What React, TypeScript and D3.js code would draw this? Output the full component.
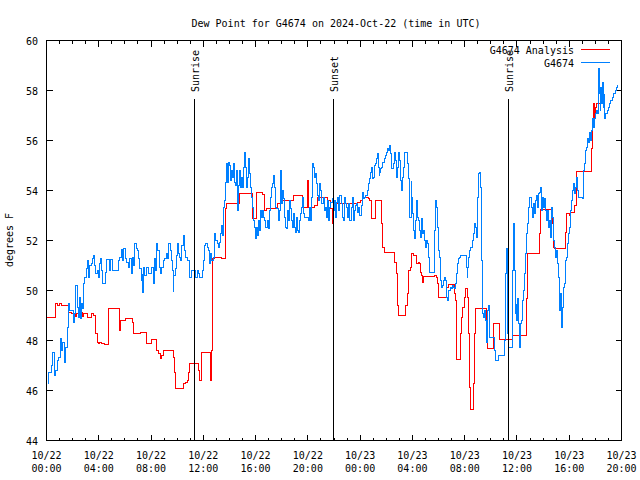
import React from "react";
import * as d3 from "d3";

const title = "Dew Point for G4674 on 2024-Oct-22 (time in UTC)";
const yAxisLabel = "degrees F";
const seriesNames = ["G4674 Analysis", "G4674"];
const seriesColors = ["#ff0000", "#0080ff"];
const yTickValues = [44, 46, 48, 50, 52, 54, 56, 58, 60];
const startUtc = Date.UTC(2024, 9, 22, 0, 0);
const spanHours = 44;
const eventNames = ["Sunrise", "Sunset", "Sunrise"];
const eventHours = [11.35, 21.98, 35.38];

// [hours since 2024-10-22 00:00 UTC, dew point °F]
const analysis: [number, number][] = [
  [0.0, 48.93], [0.66, 49.49], [0.82, 49.4], [1.0, 49.47], [1.15, 49.4], [1.68, 49.13], [1.9, 49.07],
  [2.2, 48.97], [2.3, 49.07], [2.45, 49.13], [2.73, 48.97], [2.86, 49.07], [3.1, 48.93], [3.42, 49.07],
  [3.57, 49.0], [3.75, 48.27], [3.88, 47.93], [3.95, 47.87], [4.06, 47.93], [4.2, 47.87], [4.4, 47.83],
  [4.77, 49.27], [5.56, 48.8], [5.6, 48.4], [5.65, 48.8], [6.05, 48.89], [6.55, 48.73], [6.68, 48.3],
  [7.2, 48.33], [7.65, 47.89], [8.04, 48.03], [8.42, 47.6], [8.6, 47.47], [8.72, 47.27], [8.8, 47.4],
  [8.93, 47.6], [9.69, 47.33], [9.8, 46.73], [9.9, 46.07], [10.51, 46.27], [10.62, 46.33], [10.77, 46.4],
  [10.84, 46.73], [10.92, 47.07], [11.66, 46.8], [11.74, 46.4], [11.84, 47.53], [12.52, 47.2], [12.58, 46.4],
  [12.65, 47.6], [12.73, 51.27], [12.85, 51.33], [13.37, 51.27], [13.68, 53.27], [13.78, 53.47], [14.79, 53.89],
  [15.77, 52.87], [16.07, 53.93], [16.55, 53.84], [16.68, 53.2], [16.85, 53.27], [17.65, 53.47], [17.9, 53.6],
  [18.88, 53.8], [19.57, 53.33], [19.97, 54.4], [20.05, 53.33], [20.5, 53.4], [20.71, 53.73], [21.53, 53.6],
  [21.7, 53.27], [21.9, 52.67], [21.95, 53.27], [22.1, 53.53], [22.2, 53.47], [23.8, 53.53], [24.0, 53.6],
  [24.15, 53.67], [24.28, 53.73], [24.62, 53.67], [24.75, 53.6], [24.85, 53.27], [24.9, 52.87], [25.18, 53.6],
  [25.65, 52.67], [25.74, 51.73], [25.85, 51.53], [26.6, 51.13], [26.76, 50.67], [26.85, 50.27], [26.89, 49.4],
  [26.97, 49.0], [27.5, 49.4], [27.6, 49.87], [27.73, 50.8], [27.85, 50.93], [27.92, 51.47], [28.1, 51.4],
  [28.32, 51.07], [28.45, 51.13], [28.55, 51.07], [28.62, 50.73], [28.68, 50.6], [28.75, 50.33], [28.82, 50.57],
  [29.7, 50.6], [29.85, 50.53], [29.95, 50.27], [30.03, 49.73], [30.58, 50.13], [30.74, 50.23], [31.2, 49.87],
  [31.3, 49.6], [31.35, 48.4], [31.4, 47.23], [31.65, 48.27], [31.75, 48.93], [31.86, 49.33], [31.95, 49.73],
  [32.04, 50.07], [32.2, 49.73], [32.27, 48.27], [32.4, 46.13], [32.45, 45.23], [32.68, 46.27], [32.78, 48.27],
  [32.83, 49.27], [33.7, 48.8], [33.77, 47.67], [34.23, 48.67], [34.69, 48.03], [35.64, 48.2], [36.74, 49.67],
  [36.79, 51.47], [37.76, 52.27], [37.81, 53.24], [38.75, 52.67], [38.83, 51.73], [38.9, 51.67], [39.72, 52.33],
  [39.8, 53.07], [40.0, 53.0], [40.13, 53.13], [40.4, 53.4], [40.59, 54.76], [41.72, 55.67], [41.76, 56.53],
  [41.83, 56.8], [41.89, 57.47], [41.97, 56.87], [42.02, 57.33], [42.12, 57.47], [42.5, 57.47],
];

const observed: [number, number][] = [
  [0.05, 46.27], [0.18, 46.73], [0.36, 47.0], [0.48, 47.53], [0.61, 46.6], [0.71, 46.8], [0.82, 47.2], [0.94, 47.33],
  [1.07, 48.07], [1.17, 47.6], [1.25, 47.93], [1.38, 47.13], [1.45, 47.73], [1.58, 48.53], [1.66, 49.47], [1.76, 49.2],
  [1.96, 49.2], [2.09, 48.73], [2.17, 49.07], [2.24, 50.2], [2.35, 49.33], [2.45, 48.93], [2.55, 49.73], [2.63, 48.87],
  [2.7, 49.47], [2.78, 49.27], [2.86, 50.27], [2.93, 50.53], [3.04, 50.87], [3.11, 51.2], [3.24, 50.53], [3.32, 51.0],
  [3.42, 51.07], [3.52, 51.27], [3.6, 51.4], [3.67, 51.0], [3.78, 50.67], [3.88, 50.8], [3.95, 50.53], [4.03, 51.07],
  [4.13, 51.27], [4.21, 50.8], [4.29, 50.27], [4.44, 50.27], [4.49, 50.73], [4.57, 51.23], [4.77, 51.23], [4.85, 50.8],
  [4.92, 51.23], [5.03, 50.8], [5.46, 50.8], [5.54, 51.2], [5.61, 51.33], [5.71, 51.64], [5.82, 51.2], [5.92, 51.67],
  [6.05, 51.27], [6.12, 51.13], [6.25, 50.93], [6.38, 51.27], [6.48, 50.67], [6.56, 51.33], [6.68, 51.0], [6.76, 51.89],
  [6.86, 51.67], [6.96, 51.6], [7.07, 51.27], [7.14, 50.87], [7.24, 50.4], [7.32, 50.67], [7.37, 49.93], [7.45, 50.93],
  [7.53, 50.6], [7.63, 50.93], [7.83, 50.67], [8.01, 50.93], [8.11, 50.93], [8.21, 50.27], [8.29, 51.27], [8.37, 50.8],
  [8.44, 51.87], [8.52, 51.6], [8.62, 50.93], [8.72, 50.67], [8.83, 50.93], [8.93, 51.2], [9.06, 51.27], [9.16, 51.47],
  [9.23, 51.27], [9.36, 51.89], [9.46, 51.6], [9.54, 51.2], [9.64, 50.8], [9.69, 49.96], [9.74, 50.6], [9.85, 50.87],
  [9.95, 51.4], [10.03, 51.89], [10.1, 51.47], [10.18, 51.33], [10.26, 51.2], [10.36, 51.8], [10.46, 52.2], [10.56, 51.6],
  [10.66, 51.33], [10.79, 51.2], [10.89, 51.2], [10.97, 50.53], [11.07, 50.8], [11.28, 50.8], [11.4, 50.53], [11.53, 50.8],
  [11.66, 50.67], [11.73, 50.53], [11.84, 50.53], [11.91, 50.8], [11.99, 51.2], [12.09, 51.8], [12.19, 51.87], [12.3, 51.73],
  [12.4, 51.6], [12.45, 51.07], [12.53, 51.47], [12.63, 51.2], [12.73, 51.2], [12.81, 51.33], [12.88, 52.27], [12.96, 52.0],
  [13.06, 51.87], [13.16, 51.73], [13.27, 51.93], [13.34, 52.27], [13.42, 52.6], [13.49, 52.2], [13.57, 53.33], [13.65, 53.6],
  [13.72, 54.33], [13.8, 55.07], [13.88, 54.33], [13.95, 55.13], [14.03, 55.0], [14.08, 54.4], [14.16, 54.8], [14.23, 54.53],
  [14.29, 55.07], [14.36, 54.33], [14.44, 54.2], [14.52, 54.8], [14.59, 54.4], [14.64, 53.2], [14.72, 54.2], [14.8, 54.8],
  [14.85, 54.13], [14.92, 54.53], [15.0, 54.13], [15.1, 54.93], [15.18, 55.53], [15.26, 54.93], [15.33, 54.13], [15.41, 54.53],
  [15.48, 55.27], [15.56, 54.67], [15.61, 54.13], [15.69, 53.73], [15.77, 53.33], [15.84, 52.8], [15.92, 52.53], [15.99, 52.07],
  [16.07, 52.53], [16.15, 52.2], [16.22, 52.8], [16.3, 52.4], [16.38, 53.2], [16.45, 52.93], [16.53, 53.2], [16.63, 52.93],
  [16.71, 52.8], [16.79, 52.53], [16.89, 52.8], [16.96, 52.47], [17.04, 53.2], [17.12, 53.73], [17.19, 54.13], [17.27, 54.27],
  [17.35, 54.6], [17.42, 54.13], [17.5, 53.33], [17.58, 53.27], [17.65, 53.27], [17.76, 52.8], [17.83, 53.2], [17.91, 54.8],
  [17.98, 53.47], [18.06, 54.0], [18.14, 53.67], [18.21, 52.93], [18.29, 52.53], [18.37, 52.47], [18.44, 53.2], [18.52, 52.8],
  [18.6, 53.6], [18.67, 53.27], [18.75, 52.8], [18.83, 52.53], [18.9, 53.07], [18.98, 52.53], [19.06, 52.33], [19.13, 52.93],
  [19.23, 52.4], [19.31, 52.33], [19.39, 52.8], [19.46, 53.07], [19.54, 53.33], [19.62, 53.73], [19.69, 53.07], [19.74, 52.93],
  [19.95, 52.93], [20.03, 52.8], [20.1, 53.33], [20.18, 52.8], [20.26, 53.73], [20.33, 54.8], [20.38, 55.07], [20.46, 54.93],
  [20.54, 54.53], [20.61, 54.67], [20.69, 54.27], [20.77, 53.8], [20.84, 53.6], [20.92, 54.27], [20.99, 54.0], [21.07, 53.47],
  [21.15, 53.47], [21.22, 53.73], [21.3, 53.2], [21.38, 53.33], [21.45, 52.93], [21.53, 53.6], [21.61, 52.8], [21.68, 53.33],
  [21.73, 53.53], [21.86, 53.67], [21.94, 53.2], [22.04, 53.6], [22.12, 52.93], [22.19, 53.53], [22.3, 53.73], [22.37, 53.2],
  [22.45, 53.8], [22.55, 53.47], [22.63, 52.93], [22.7, 52.8], [22.81, 53.73], [22.88, 53.47], [22.96, 53.33], [23.06, 52.93],
  [23.14, 53.47], [23.21, 52.8], [23.32, 53.33], [23.39, 53.73], [23.47, 52.8], [23.57, 53.2], [23.65, 53.4], [23.72, 53.47],
  [23.83, 53.13], [23.9, 53.33], [23.98, 53.0], [24.08, 53.4], [24.16, 53.93], [24.23, 53.8], [24.29, 53.67], [24.36, 53.73],
  [24.44, 53.8], [24.54, 54.0], [24.62, 54.27], [24.69, 54.47], [24.8, 54.73], [24.87, 54.93], [24.95, 54.47], [25.03, 54.53],
  [25.1, 55.0], [25.18, 55.07], [25.26, 55.27], [25.31, 55.47], [25.38, 54.93], [25.46, 54.6], [25.51, 54.73], [25.59, 54.87],
  [25.66, 54.93], [25.74, 55.13], [25.82, 55.13], [25.89, 55.27], [25.97, 55.4], [26.05, 55.53], [26.12, 55.67], [26.2, 55.6],
  [26.28, 55.8], [26.35, 55.47], [26.43, 54.87], [26.51, 54.87], [26.58, 55.07], [26.66, 55.51], [26.73, 55.2], [26.81, 54.53],
  [26.89, 54.93], [26.97, 55.51], [27.04, 55.2], [27.12, 54.4], [27.19, 54.0], [27.24, 54.53], [27.32, 54.93], [27.4, 55.51],
  [27.58, 55.51], [27.65, 55.07], [27.7, 54.47], [27.76, 52.93], [27.83, 52.93], [27.91, 54.4], [27.96, 53.73], [28.04, 53.07],
  [28.11, 52.4], [28.19, 52.07], [28.27, 52.8], [28.34, 53.6], [28.42, 52.93], [28.5, 52.8], [28.57, 52.4], [28.62, 52.13],
  [28.7, 52.87], [28.78, 52.27], [28.85, 52.4], [28.93, 52.0], [29.01, 51.73], [29.08, 52.0], [29.16, 51.87], [29.23, 51.33],
  [29.31, 50.73], [29.64, 50.73], [29.72, 52.4], [29.8, 53.6], [29.87, 53.33], [29.95, 52.53], [30.03, 51.6], [30.1, 51.33],
  [30.15, 50.4], [30.23, 50.13], [30.31, 50.2], [30.38, 50.4], [30.46, 50.53], [30.54, 50.4], [30.61, 49.73], [30.69, 49.6],
  [30.77, 50.0], [30.84, 50.0], [30.92, 50.13], [31.0, 50.07], [31.07, 50.2], [31.15, 50.13], [31.22, 50.07], [31.3, 50.27],
  [31.38, 50.67], [31.45, 51.07], [31.53, 51.27], [31.61, 51.33], [31.68, 51.4], [32.04, 51.4], [32.12, 50.93], [32.19, 50.53],
  [32.24, 50.93], [32.32, 51.33], [32.4, 51.6], [32.47, 51.73], [32.55, 51.73], [32.63, 52.0], [32.7, 52.27], [32.76, 52.67],
  [32.83, 52.53], [32.88, 52.13], [32.96, 53.73], [33.03, 54.67], [33.11, 54.73], [33.19, 54.13], [33.27, 51.2], [33.34, 49.07],
  [33.42, 48.93], [33.5, 49.2], [33.57, 48.8], [33.65, 48.47], [33.7, 47.93], [33.78, 49.2], [33.85, 49.4], [33.93, 48.13],
  [34.21, 48.13], [34.26, 47.6], [34.34, 47.2], [34.57, 47.4], [35.0, 47.4], [35.08, 48.0], [35.15, 50.67], [35.2, 51.67],
  [35.26, 48.27], [35.33, 47.73], [35.59, 47.73], [35.64, 48.53], [35.69, 50.8], [35.77, 52.67], [35.82, 50.8], [35.89, 49.07],
  [35.94, 49.47], [35.99, 48.8], [36.05, 49.67], [36.1, 48.67], [36.17, 47.73], [36.22, 47.73], [36.28, 48.67], [36.35, 48.8],
  [36.43, 49.6], [36.51, 50.0], [36.58, 50.67], [36.66, 51.47], [36.73, 52.27], [36.81, 52.67], [36.89, 53.33], [36.94, 53.73],
  [37.07, 53.73], [37.14, 53.33], [37.22, 52.93], [37.3, 53.47], [37.37, 53.07], [37.45, 53.6], [37.53, 53.8], [37.6, 53.33],
  [37.68, 53.87], [37.76, 53.93], [37.83, 54.13], [37.91, 53.2], [37.96, 53.73], [38.04, 53.33], [38.11, 53.67], [38.19, 53.2],
  [38.27, 52.8], [38.34, 53.2], [38.42, 52.53], [38.49, 52.8], [38.57, 52.13], [38.65, 53.33], [38.72, 52.93], [38.8, 52.0],
  [38.88, 51.73], [38.95, 51.33], [39.03, 51.6], [39.11, 51.07], [39.18, 50.53], [39.23, 49.2], [39.31, 49.87], [39.39, 49.33],
  [39.44, 48.53], [39.52, 49.33], [39.59, 50.13], [39.67, 50.27], [39.74, 51.2], [39.82, 51.33], [39.87, 51.87], [39.95, 52.27],
  [40.03, 52.53], [40.1, 53.2], [40.18, 53.6], [40.26, 54.0], [40.33, 54.27], [40.41, 53.87], [40.48, 54.13], [40.56, 54.53],
  [40.64, 54.0], [40.71, 53.73], [41.0, 53.67], [41.07, 54.8], [41.15, 55.07], [41.22, 55.2], [41.28, 55.6], [41.35, 55.73],
  [41.43, 56.07], [41.51, 55.93], [41.58, 56.33], [41.63, 56.0], [41.71, 56.4], [41.76, 56.67], [41.81, 56.87], [41.89, 56.53],
  [41.94, 56.87], [41.99, 57.07], [42.07, 57.2], [42.14, 57.07], [42.22, 57.73], [42.27, 58.87], [42.32, 57.87], [42.37, 57.2],
  [42.42, 58.13], [42.5, 57.47], [42.58, 58.33], [42.63, 57.33], [42.68, 57.87], [42.73, 56.87], [42.81, 57.07], [42.91, 57.2],
  [42.99, 57.33], [43.09, 57.47], [43.17, 57.6], [43.3, 57.71], [43.37, 57.87], [43.52, 58.0], [43.6, 58.13], [43.73, 58.24],
];

const FONT = "'DejaVu Sans Mono', monospace";
const W = 640;
const H = 480;
const L = 46.5, R = 621.5, T = 40.5, B = 440.5;

const toDate = (h: number) => new Date(startUtc + h * 3600 * 1000);

export default function App() {
  const x = d3.scaleUtc().domain([toDate(0), toDate(spanHours)]).range([L, R]);
  const y = d3.scaleLinear().domain([44, 60]).range([B, T]);

  const line = d3
    .line<[number, number]>()
    .x((d) => Math.round(x(toDate(d[0])) - 0.5) + 0.5)
    .y((d) => Math.round(y(d[1]) - 0.5) + 0.5)
    .curve(d3.curveStepAfter);

  const hourTicks = x.ticks(d3.utcHour.every(1) as d3.TimeInterval);
  const majorTicks = x.ticks(d3.utcHour.every(4) as d3.TimeInterval);
  const fmtDate = d3.utcFormat("%m/%d");
  const fmtTime = d3.utcFormat("%H:%M");

  return (
    <svg
      width={W}
      height={H}
      style={{ position: "absolute", left: 0, top: 0, background: "#fff" }}
      fontFamily={FONT}
      fontSize={10}
    >
      <rect x={0} y={0} width={W} height={H} fill="#fff" />
      <defs>
        <clipPath id="plotclip">
          <rect x={L} y={T} width={R - L} height={B - T} />
        </clipPath>
      </defs>
      <text x={336} y={27} textAnchor="middle" fill="#000">{title}</text>

      {/* x ticks */}
      {hourTicks.map((t, i) => {
        const isMajor = t.getUTCHours() % 4 === 0;
        const len = isMajor ? 6 : 3;
        const xp = Math.round(x(t) - 0.5) + 0.5;
        return (
          <g key={"xt" + i} stroke="#000" strokeWidth={1} shapeRendering="crispEdges">
            <line x1={xp} x2={xp} y1={B} y2={B - len} />
            <line x1={xp} x2={xp} y1={T} y2={T + len} />
          </g>
        );
      })}
      {majorTicks.map((t, i) => (
        <g key={"xl" + i} textAnchor="middle" fill="#000">
          <text x={x(t)} y={459}>{fmtDate(t)}</text>
          <text x={x(t)} y={472}>{fmtTime(t)}</text>
        </g>
      ))}

      {/* y ticks */}
      {yTickValues.map((v, i) => (
        <g key={"yt" + i}>
          <line x1={L} x2={L + 6} y1={y(v)} y2={y(v)} stroke="#000" shapeRendering="crispEdges" />
          <line x1={R} x2={R - 6} y1={y(v)} y2={y(v)} stroke="#000" shapeRendering="crispEdges" />
          <text x={38} y={y(v) + 4} textAnchor="end" fill="#000">{v}</text>
        </g>
      ))}

      <text transform={`translate(13,240) rotate(-90)`} textAnchor="middle" fill="#000">{yAxisLabel}</text>

      {/* data */}
      <g clipPath="url(#plotclip)" fill="none" strokeWidth={1} shapeRendering="crispEdges">
        <path d={line(analysis) || ""} stroke={seriesColors[0]} />
        <path d={line(observed) || ""} stroke={seriesColors[1]} />
      </g>

      {/* events */}
      {eventHours.map((h, i) => {
        const xp = Math.round(x(toDate(h)) - 0.5) + 0.5;
        return (
          <g key={"ev" + i}>
            <line x1={xp} x2={xp} y1={99} y2={B} stroke="#000" shapeRendering="crispEdges" />
            <text transform={`translate(${xp + 4},92) rotate(-90)`} textAnchor="start" fill="#000">
              {eventNames[i]}
            </text>
          </g>
        );
      })}

      {/* legend */}
      {seriesNames.map((n, i) => (
        <g key={"lg" + i}>
          <text x={574} y={54 + i * 13} textAnchor="end" fill="#000">{n}</text>
          <line x1={581} x2={610} y1={49.5 + i * 13} y2={49.5 + i * 13} stroke={seriesColors[i]} shapeRendering="crispEdges" />
        </g>
      ))}

      {/* frame */}
      <rect x={L} y={T} width={R - L} height={B - T} fill="none" stroke="#000" shapeRendering="crispEdges" />
    </svg>
  );
}
